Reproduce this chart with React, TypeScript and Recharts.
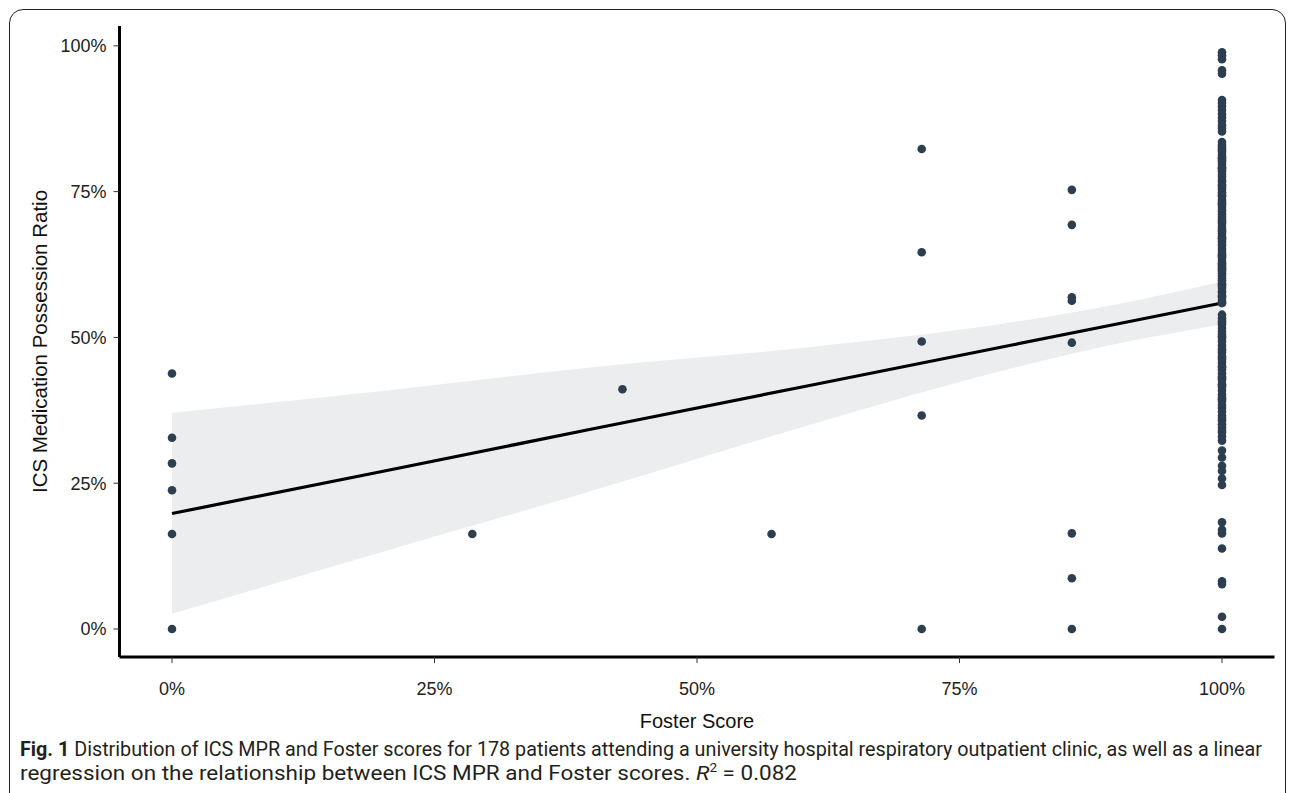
import React from "react";
import {
  ComposedChart,
  Scatter,
  Line,
  Area,
  XAxis,
  YAxis,
} from "recharts";

// Foster score levels (0/7 .. 7/7) and the MPR values observed at each
const mprAt0 = [43.8, 32.8, 28.4, 23.8, 16.3, 0];
const mprAt29 = [16.3];
const mprAt43 = [41.1];
const mprAt57 = [16.3];
const mprAt71 = [82.3, 64.6, 49.3, 36.6, 0];
const mprAt86 = [75.3, 69.3, 56.9, 56.3, 49.1, 16.4, 8.7, 0];
const mprAt100 = [
  98.9, 98.4, 97.7, 95.8, 95.2,
  90.7, 90.2, 89.6, 89.0, 88.3, 87.7, 87.1, 86.4, 85.9, 85.3,
  83.5, 83.0, 82.7, 82.1, 81.8, 81.3, 80.9, 80.4, 80.0, 79.6,
  79.2, 78.7, 78.4, 77.9, 77.5, 77.0, 76.7, 76.2, 75.8, 75.4,
  74.9, 74.5, 74.1, 73.6, 73.3, 72.8, 72.4, 71.9, 71.6, 71.1,
  70.7, 70.3, 69.8, 69.5, 69.0, 68.6, 68.1, 67.8, 67.3, 66.9,
  66.5, 66.0, 65.7, 65.2, 64.8, 64.4, 63.9, 63.6, 63.1, 62.7,
  62.2, 61.9, 61.4, 61.0, 60.6, 60.1, 59.8, 59.3, 58.9, 58.5,
  58.0, 57.7, 57.2, 56.8, 56.3, 55.9,
  53.9, 53.3, 52.8, 52.2, 51.6, 51.0, 50.5, 49.9, 49.3, 48.6, 48.0, 47.4, 46.8, 46.2,
  45.7, 45.1, 44.5, 43.8, 43.3, 42.7, 42.0, 41.5, 40.9, 40.2, 39.7, 39.1, 38.4, 37.9, 37.3,
  36.6, 35.8, 35.1, 34.5, 33.7, 33.0, 32.3,
  30.6, 29.4, 28.0, 27.1, 25.8, 24.7,
  18.3, 17.0, 16.4, 13.8, 8.2, 7.7, 2.1, 0,
  82.4, 79.0, 76.0, 73.0, 70.0, 67.0, 64.1, 61.7, 59.0, 57.0,
  52.5, 50.2, 47.7, 44.9, 41.8, 39.4, 36.2, 34.0, 80.7, 74.3,
  68.3, 62.5, 55.9, 46.5, 43.0,
];

const groups: [number, number[]][] = [
  [0, mprAt0],
  [28.6, mprAt29],
  [42.9, mprAt43],
  [57.1, mprAt57],
  [71.4, mprAt71],
  [85.7, mprAt86],
  [100, mprAt100],
];

// regression fit and 95% confidence band
const bandX = [0, 20, 40, 60, 80, 90, 100];
const bandLow = [2.6, 13.2, 23.7, 34.6, 44.7, 48.9, 52.2];
const bandHigh = [37.1, 40.8, 44.9, 48.2, 52.6, 55.7, 59.6];
const fitY = [19.8, 27.0, 34.3, 41.5, 48.7, 52.3, 55.9];

const ticks = [0, 25, 50, 75, 100];

const points = groups.flatMap(([x, ys]) => ys.map((y) => ({ x, y })));
const band = bandX.map((x, i) => ({
  x,
  range: [bandLow[i], bandHigh[i]],
  fit: fitY[i],
}));

const font = '"Liberation Sans", Arial, Helvetica, sans-serif';
const captionFont = 'Roboto, "Liberation Sans", sans-serif';
const pct = (v: number) => `${v}%`;

const Dot = (props: any) => (
  <circle cx={props.cx} cy={props.cy} r={4.3} fill="#2c3e50" />
);

export default function App() {
  return (
    <div
      style={{
        position: "absolute",
        left: 0,
        top: 0,
        width: 1293,
        height: 793,
        overflow: "hidden",
        background: "#fff",
      }}
    >
      <div
        style={{
          position: "absolute",
          left: 9,
          top: 9,
          width: 1277,
          height: 840,
          border: "1.5px solid #231f20",
          borderRadius: 14,
          boxSizing: "border-box",
        }}
      />
      <div style={{ position: "absolute", left: 0, top: 0 }}>
        <ComposedChart
          width={1293}
          height={745}
          margin={{ top: 26, right: 18.5, left: 0, bottom: 8 }}
        >
          <XAxis
            type="number"
            dataKey="x"
            domain={[-5, 105]}
            ticks={ticks}
            tickFormatter={pct}
            allowDataOverflow
            height={80}
            axisLine={{ stroke: "#000", strokeWidth: 3 }}
            tickLine={{ stroke: "#333", strokeWidth: 1 }}
            tickSize={6}
            tickMargin={19}
            tick={{ fill: "#222", fontSize: 18, fontFamily: font }}
            label={{
              value: "Foster Score",
              position: "insideBottom",
              offset: 9,
              fill: "#111",
              fontSize: 20,
              fontFamily: font,
            }}
          />
          <YAxis
            type="number"
            domain={[-4.8, 103.4]}
            ticks={ticks}
            tickFormatter={pct}
            allowDataOverflow
            width={119.5}
            axisLine={{ stroke: "#000", strokeWidth: 3 }}
            tickLine={{ stroke: "#333", strokeWidth: 1 }}
            tickSize={6}
            tickMargin={7}
            tick={{ fill: "#222", fontSize: 18, fontFamily: font }}
            label={{
              value: "ICS Medication Possession Ratio",
              angle: -90,
              position: "insideLeft",
              offset: 39.5,
              style: { textAnchor: "middle" },
              fill: "#111",
              fontSize: 20.5,
              fontFamily: font,
            }}
          />
          <Area
            data={band}
            dataKey="range"
            type="monotone"
            fill="#ecedef"
            fillOpacity={1}
            stroke="none"
            isAnimationActive={false}
          />
          <Scatter
            data={points}
            dataKey="y"
            shape={Dot}
            isAnimationActive={false}
          />
          <Line
            data={band}
            dataKey="fit"
            type="linear"
            stroke="#000"
            strokeWidth={3.2}
            dot={false}
            isAnimationActive={false}
          />
        </ComposedChart>
      </div>
      <svg
        width={1293}
        height={60}
        style={{ position: "absolute", left: 0, top: 733 }}
      >
        <text
          x={20}
          y={23}
          fontFamily={captionFont}
          fontSize={20}
          fill="#231f20"
          textLength={1242}
          lengthAdjust="spacingAndGlyphs"
        >
          <tspan fontWeight="bold">Fig. 1</tspan> Distribution of ICS MPR and
          Foster scores for 178 patients attending a university hospital
          respiratory outpatient clinic, as well as a linear
        </text>
        <text
          x={20}
          y={47}
          fontFamily={captionFont}
          fontSize={20}
          fill="#231f20"
          textLength={777}
          lengthAdjust="spacingAndGlyphs"
        >
          regression on the relationship between ICS MPR and Foster scores.{" "}
          <tspan fontStyle="italic">R</tspan>
          <tspan fontSize={12} dy={-8}>
            2
          </tspan>
          <tspan dy={8}> = 0.082</tspan>
        </text>
      </svg>
    </div>
  );
}
